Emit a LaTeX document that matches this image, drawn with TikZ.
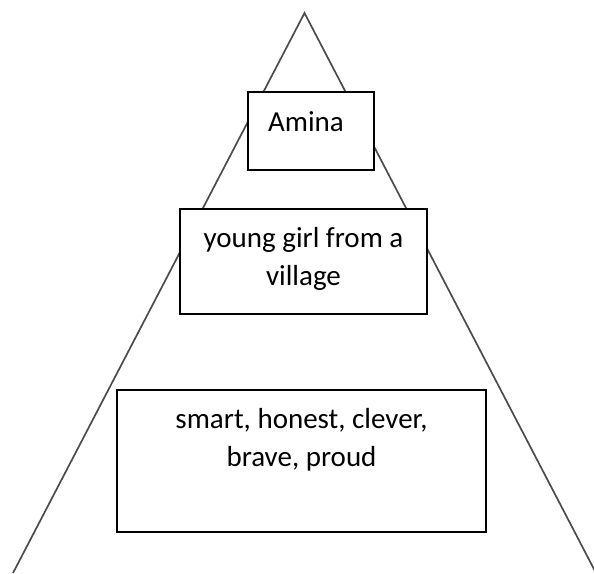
\documentclass[tikz,border=0pt]{standalone}
\usepackage{fontspec}
\setmainfont{Carlito}
\usetikzlibrary{positioning}

\begin{document}
\begin{tikzpicture}[x=1pt,y=-1pt,
  side/.style={draw=black!70,line width=1.7pt},
  box/.style={draw,line width=1.6pt,fill=white,inner sep=0pt},
  txt/.style={inner sep=0pt,align=center,font=\fontsize{29}{37.5}\selectfont}]
\useasboundingbox (0,0) rectangle (594,573);
% the pyramid
\coordinate (apex) at (304.5,13);
\coordinate (baseL) at (13,573);
\coordinate (baseR) at (596,573);
\draw[side] (baseL) -- (apex) -- (baseR);
% boxes, top to bottom
\node[box,minimum width=126pt,minimum height=78pt] (amina) at (311,131) {};
\node[box,minimum width=247pt,minimum height=105pt] (girl) at (303.5,261.5) {};
\node[box,minimum width=369pt,minimum height=142pt] (traits) at (301.5,461) {};
% texts sit at the top of each box
\node[txt,below=20pt of amina.north,xshift=-5pt] (aminatxt) {Amina};
\node[txt,below=19pt of girl.north] (girltxt) {young girl from a\\ village};
\node[txt,below=19pt of traits.north] (traitstxt) {smart, honest, clever,\\ brave, proud};
\end{tikzpicture}
\end{document}
